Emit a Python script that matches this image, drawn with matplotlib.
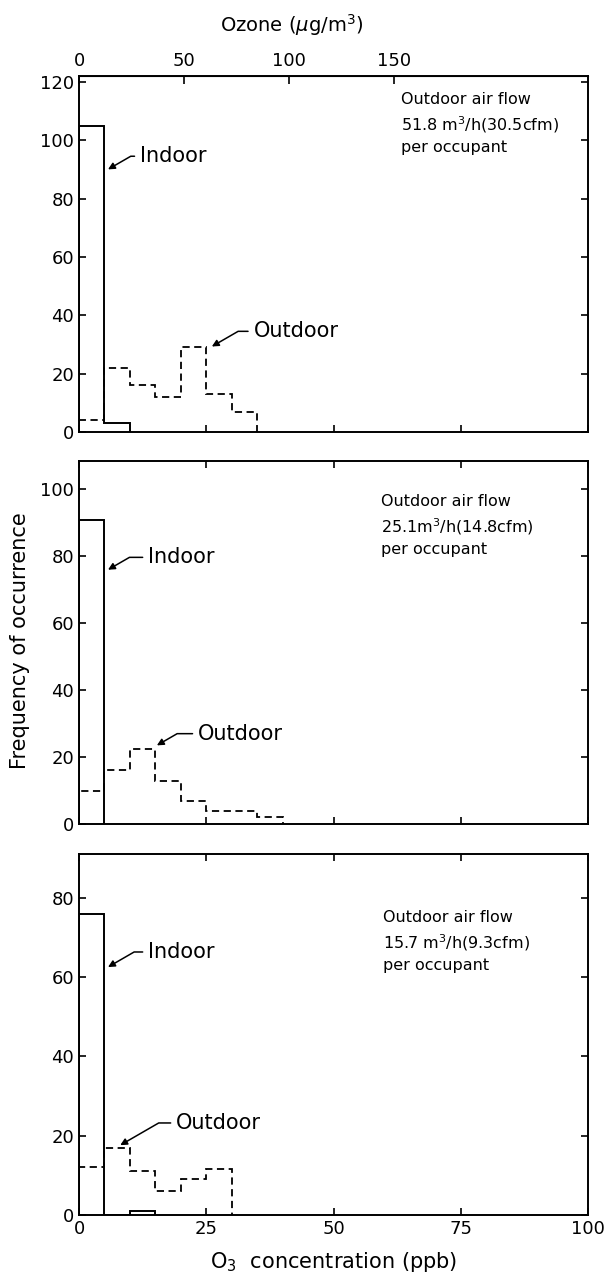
import matplotlib
matplotlib.use('Agg')
import matplotlib.pyplot as plt
import numpy as np

# histogram counts, 5 ppb bins starting at 0
p1_indoor = [105, 3]
p1_outdoor = [4, 22, 16, 12, 29, 13, 7]
p2_indoor = [91]
p2_outdoor = [10, 16, 22.5, 13, 7, 4, 4, 2]
p3_indoor = [76, 0, 1]
p3_outdoor = [12, 17, 11, 6, 9, 11.5]

flow_labels = ['Outdoor air flow\n51.8 m$^3$/h(30.5cfm)\nper occupant',
               'Outdoor air flow\n25.1m$^3$/h(14.8cfm)\nper occupant',
               'Outdoor air flow\n15.7 m$^3$/h(9.3cfm)\nper occupant']
ymax = [122, 108.5, 91]
yticks = [np.arange(0, 121, 20), np.arange(0, 101, 20), np.arange(0, 81, 20)]
ppb_ticks = [0, 25, 50, 75, 100]
ug_ticks = [0, 50, 100, 150]
UG_PER_PPB = 2.42

# (indoor text xy, indoor arrow xy, outdoor text xy, outdoor arrow xy)
notes = [((12, 94.5), (5.7, 90), (34.3, 34.5), (26.1, 29.3)),
         ((13.6, 79.7), (5.7, 76), (23.4, 27), (15.3, 23.5)),
         ((13.6, 66.3), (5.7, 62.5), (19.1, 23.2), (8.1, 17.6))]
flow_pos = [(63.2, 0.955), (59.3, 0.909), (59.8, 0.844)]

plt.rcParams['font.family'] = ['DejaVu Sans']
fs = 13      # tick labels
fs_note = 15 # Indoor / Outdoor
fs_flow = 11.5
fs_lab = 15

fig = plt.figure(figsize=(6.11, 12.83), dpi=100)
W = 611.0
H = 1283.0
boxes = [(76, 432), (461, 824), (854, 1215)]
axes = []
for top, bot in boxes:
    ax = fig.add_axes([79 / W, 1 - bot / H, (588 - 79) / W, (bot - top) / H])
    axes.append(ax)

arrow = dict(arrowstyle='-|>', color='black', lw=1.1, mutation_scale=10,
             connectionstyle='angle,angleA=0,angleB=30,rad=0',
             shrinkA=2, shrinkB=0)

data = [(p1_indoor, p1_outdoor), (p2_indoor, p2_outdoor), (p3_indoor, p3_outdoor)]
for i, ax in enumerate(axes):
    ind, outd = data[i]
    ax.stairs(ind, np.arange(0, 5 * len(ind) + 1, 5), baseline=0, color='black', lw=1.4)
    ax.stairs(outd, np.arange(0, 5 * len(outd) + 1, 5), baseline=0, color='black', lw=1.3,
              linestyle=(0, (4, 2.5)))
    ax.set_xlim(0, 100)
    ax.set_ylim(0, ymax[i])
    ax.set_yticks(yticks[i])
    ax.set_xticks(ppb_ticks)
    ax.tick_params(direction='in', length=5, width=1.2, labelsize=fs,
                   right=True, top=(i > 0))
    for s in ax.spines.values():
        s.set_linewidth(1.4)
    if i < 2:
        ax.tick_params(labelbottom=False)

    (ti, ai, to, ao) = notes[i]
    ax.annotate('Indoor', xy=ai, xytext=ti, fontsize=fs_note, va='center', ha='left',
                arrowprops=arrow)
    ax.annotate('Outdoor', xy=ao, xytext=to, fontsize=fs_note, va='center', ha='left',
                arrowprops=arrow)
    fx, fy = flow_pos[i]
    ax.text(fx, fy, flow_labels[i], transform=ax.get_xaxis_transform(),
            fontsize=fs_flow, va='top', ha='left', linespacing=1.42)

sec = axes[0].secondary_xaxis('top', functions=(lambda x: x * UG_PER_PPB,
                                                lambda x: x / UG_PER_PPB))
sec.set_xticks(ug_ticks)
sec.tick_params(direction='in', length=6, width=1.2, labelsize=fs, pad=4)
fig.text(292 / W, 1 - 25 / H, 'Ozone ($\\mu$g/m$^3$)', fontsize=14,
         ha='center', va='center')

axes[2].set_xlabel('O$_3$  concentration (ppb)', fontsize=fs_lab, labelpad=9)
fig.text(20 / W, 1 - 641 / H, 'Frequency of occurrence', rotation=90,
         fontsize=fs_lab, ha='center', va='center')

fig.savefig('out.png', dpi=100)
